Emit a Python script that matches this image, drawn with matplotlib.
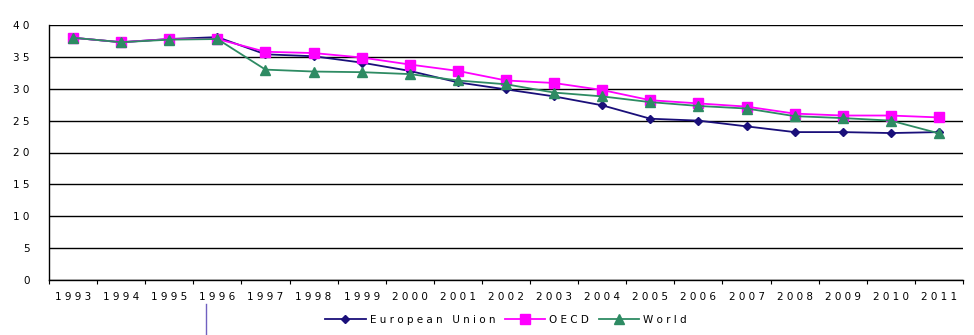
import matplotlib
matplotlib.use("Agg")
import matplotlib.pyplot as plt
from matplotlib.lines import Line2D

years = list(range(1993, 2012))
eu = [38.0, 37.3, 37.8, 38.1, 35.4, 35.1, 34.1, 32.8, 31.0, 29.9, 28.8, 27.4,
      25.3, 25.0, 24.1, 23.2, 23.2, 23.05, 23.2]
oecd = [38.0, 37.3, 37.8, 37.8, 35.8, 35.6, 34.9, 33.8, 32.8, 31.3, 30.9, 29.8,
        28.2, 27.7, 27.2, 26.1, 25.8, 25.8, 25.5]
world = [38.0, 37.3, 37.7, 37.8, 33.0, 32.7, 32.6, 32.3, 31.3, 30.7, 29.4, 28.8,
         27.9, 27.3, 26.9, 25.7, 25.4, 25.0, 23.0]
yticks = [0, 5, 10, 15, 20, 25, 30, 35, 40]


def spaced(s):
    # the original chart draws its labels with wide letter spacing
    return ' '.join(s)


plt.rcParams['font.family'] = 'DejaVu Sans'
plt.rcParams['font.size'] = 7.5

fig = plt.figure(figsize=(9.74, 3.35), dpi=100)
ax = fig.add_axes([49/974, 1-280/335, (963-49)/974, (280-25)/335])

x = list(range(len(years)))
ax.plot(x, eu, color='#1a0f7a', lw=1.3, marker='D', ms=4.5, label=spaced('European Union'))
ax.plot(x, oecd, color='#ff00ff', lw=1.3, marker='s', ms=6.5, label=spaced('OECD'))
ax.plot(x, world, color='#2e8b63', lw=1.3, marker='^', ms=6.5, label=spaced('World'))

ax.set_xlim(-0.5, len(years) - 0.5)
ax.set_ylim(0, 40)
ax.set_yticks(yticks)
ax.set_yticklabels([spaced(str(v)) for v in yticks])
ax.yaxis.grid(True, color='black', lw=1)
ax.set_axisbelow(True)
ax.tick_params(axis='y', length=0, pad=14)

ax.set_xticks([i - 0.5 for i in range(len(years) + 1)])
ax.set_xticklabels([])
ax.set_xticks(x, minor=True)
ax.set_xticklabels([spaced(str(y)) for y in years], minor=True)
ax.tick_params(axis='x', which='major', length=3, direction='out', color='black')
ax.tick_params(axis='x', which='minor', length=0, pad=9)

for s in ['top', 'right']:
    ax.spines[s].set_visible(False)
for s in ['left', 'bottom']:
    ax.spines[s].set_color('black')
    ax.spines[s].set_linewidth(1)

ax.legend(loc='upper center', bbox_to_anchor=(0.5, -0.1), ncol=3, frameon=False,
          handlelength=3.9, columnspacing=0.9, handletextpad=0.4)

# stray vertical stroke below the axis in the original image
fig.add_artist(Line2D([206/974, 206/974], [0, 1-304/335], color='#7060c0', lw=1))

fig.savefig('out.png', dpi=100, facecolor='white')
